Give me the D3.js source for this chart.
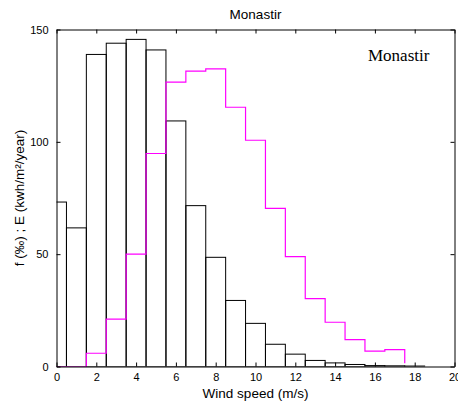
<!DOCTYPE html>
<html>
<head>
<meta charset="utf-8">
<script src="https://cdn.jsdelivr.net/npm/d3@7"></script>
<style>
  html, body { margin: 0; padding: 0; background: #fff; }
  svg { display: block; font-family: "Liberation Sans", Arial, sans-serif; }
</style>
</head>
<body>
<svg id="chart" width="458" height="407"></svg>
<script>
// Wind speed bin centres (m/s)
const speeds = [0, 1, 2, 3, 4, 5, 6, 7, 8, 9, 10, 11, 12, 13, 14, 15, 16, 17, 18];
// Frequency of each speed bin (per mille)
const frequency = [73.2, 61.7, 138.9, 143.9, 145.6, 140.9, 109.3, 71.6, 48.6, 29.4,
                   19.2, 9.9, 5.5, 2.7, 1.6, 0.9, 0.4, 0.3, 0.2];
// Energy per bin (kWh/m²/year), drawn as a staircase
const energy = [0, 0, 5.9, 21.1, 50.0, 94.8, 126.6, 131.5, 132.5, 115.4,
                100.7, 70.4, 48.9, 30.2, 19.7, 12.0, 6.8, 7.5, 1.5];
const xTicks = [0, 2, 4, 6, 8, 10, 12, 14, 16, 18, 20];
const yTicks = [0, 50, 100, 150];

const svg = d3.select("#chart");
const x = d3.scaleLinear().domain([0, 20]).range([56.5, 454.5]);
const y = d3.scaleLinear().domain([0, 150]).range([366.5, 29.5]);

svg.append("defs").append("clipPath").attr("id", "plot-clip")
  .append("rect")
  .attr("x", x(0)).attr("y", y(150))
  .attr("width", x(20) - x(0)).attr("height", y(0) - y(150));

const plot = svg.append("g").attr("clip-path", "url(#plot-clip)");

// Frequency histogram: unit-wide bins centred on each speed
plot.selectAll("rect.bar")
  .data(speeds)
  .join("rect")
  .attr("class", "bar")
  .attr("x", d => x(d - 0.5))
  .attr("width", d => x(d + 0.5) - x(d - 0.5))
  .attr("y", (d, i) => y(frequency[i]))
  .attr("height", (d, i) => y(0) - y(frequency[i]))
  .attr("fill", "none")
  .attr("stroke", "#000")
  .attr("stroke-width", 1);

// Energy staircase, each step starting at the lower bin edge
const stair = d3.line()
  .x(d => x(d[0] - 0.5))
  .y(d => y(d[1]))
  .curve(d3.curveStepAfter);
plot.append("path")
  .datum(speeds.map((s, i) => [s, energy[i]]))
  .attr("d", stair)
  .attr("fill", "none")
  .attr("stroke", "#ff00ff")
  .attr("stroke-width", 1.2);

// Axes with inward ticks on all four sides
const tickLen = 4;
svg.append("g").attr("transform", `translate(0,${y(0)})`)
  .call(d3.axisBottom(x).tickValues(xTicks).tickSizeInner(-tickLen).tickSizeOuter(0).tickPadding(7))
  .call(g => g.selectAll("text").attr("font-size", 11).attr("fill", "#000").attr("font-family", "Liberation Sans, Arial, sans-serif"));
svg.append("g").attr("transform", `translate(0,${y(150)})`)
  .call(d3.axisTop(x).tickValues(xTicks).tickSizeInner(-tickLen).tickSizeOuter(0).tickFormat(""));
svg.append("g").attr("transform", `translate(${x(0)},0)`)
  .call(d3.axisLeft(y).tickValues(yTicks).tickSizeInner(-tickLen).tickSizeOuter(0).tickPadding(8))
  .call(g => g.selectAll("text").attr("font-size", 11).attr("fill", "#000").attr("font-family", "Liberation Sans, Arial, sans-serif"));
svg.append("g").attr("transform", `translate(${x(20)},0)`)
  .call(d3.axisRight(y).tickValues(yTicks).tickSizeInner(-tickLen).tickSizeOuter(0).tickFormat(""));
svg.selectAll(".domain").attr("stroke", "#000");
svg.selectAll(".tick line").attr("stroke", "#000");

// Titles and labels
svg.append("text")
  .attr("x", (x(0) + x(20)) / 2).attr("y", 18.5)
  .attr("text-anchor", "middle").attr("font-size", 13.5)
  .text("Monastir");
svg.append("text")
  .attr("x", (x(0) + x(20)) / 2).attr("y", 398)
  .attr("text-anchor", "middle").attr("font-size", 13.5)
  .text("Wind speed (m/s)");
svg.append("text")
  .attr("transform", `translate(24,${(y(0) + y(150)) / 2}) rotate(-90)`)
  .attr("text-anchor", "middle").attr("font-size", 13.5)
  .text("f (‰) ; E (kwh/m²/year)");
svg.append("text")
  .attr("x", 368).attr("y", 61)
  .attr("font-family", "Liberation Serif, Times New Roman, serif")
  .attr("font-size", 17)
  .text("Monastir");
</script>
</body>
</html>
